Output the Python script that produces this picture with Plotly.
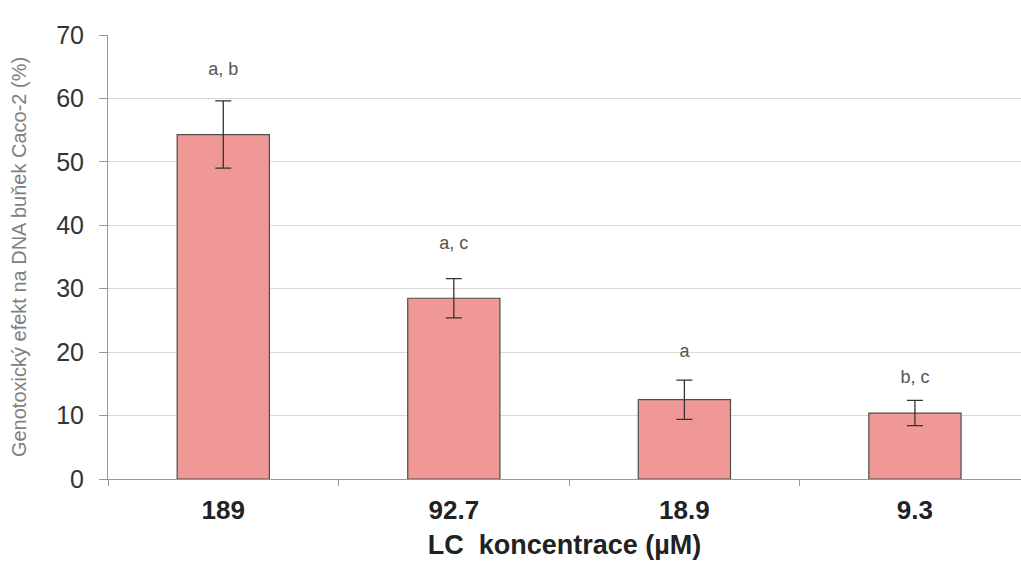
import plotly.graph_objects as go

categories = ["189", "92.7", "18.9", "9.3"]
values = [54.3, 28.5, 12.5, 10.4]
errors = [5.3, 3.1, 3.1, 2.0]
letters = ["a, b", "a, c", "a", "b, c"]
letter_y = [64.4, 36.9, 20.0, 15.9]

fig = go.Figure()
fig.add_trace(go.Bar(
    x=categories, y=values,
    width=0.4,
    marker=dict(color="#F09896", line=dict(color="#4D4D4D", width=1.2)),
    error_y=dict(type="data", array=errors, visible=True, color="#333333",
                 thickness=1.3, width=8),
    showlegend=False,
))
fig.add_trace(go.Scatter(
    x=categories, y=letter_y, mode="text", text=letters,
    textfont=dict(family="Liberation Sans, Arial", size=18, color="#555555"),
    showlegend=False, hoverinfo="skip",
))

fig.update_layout(
    width=1021, height=568,
    margin=dict(l=108, r=0, t=35, b=89),
    plot_bgcolor="white", paper_bgcolor="white",
    font=dict(family="Liberation Sans, Arial", color="#333333"),
)
fig.update_yaxes(
    range=[0, 70], dtick=10, tick0=0,
    showgrid=True, gridcolor="#DADADA", gridwidth=1,
    showline=True, linecolor="#999999", linewidth=1,
    ticks="outside", ticklen=8, tickcolor="#999999",
    ticklabelstandoff=10,
    tickfont=dict(size=25, color="#333333"),
    zeroline=False,
    title=dict(text="Genotoxický efekt na DNA buňek Caco-2 (%)",
               font=dict(size=20, color="#808080"), standoff=24),
)
fig.update_xaxes(
    range=[-0.5, 3.46],
    showline=True, linecolor="#999999", linewidth=1,
    ticks="outside", ticklen=6, tickcolor="#999999", tickson="boundaries",
    ticklabelstandoff=8,
    tickfont=dict(size=26, color="#222222"),
    tickprefix="<b>", ticksuffix="</b>",
    title=dict(text="<b>LC  koncentrace (µM)</b>",
               font=dict(size=27, color="#222222"), standoff=10),
)

fig.write_html("out.html")
